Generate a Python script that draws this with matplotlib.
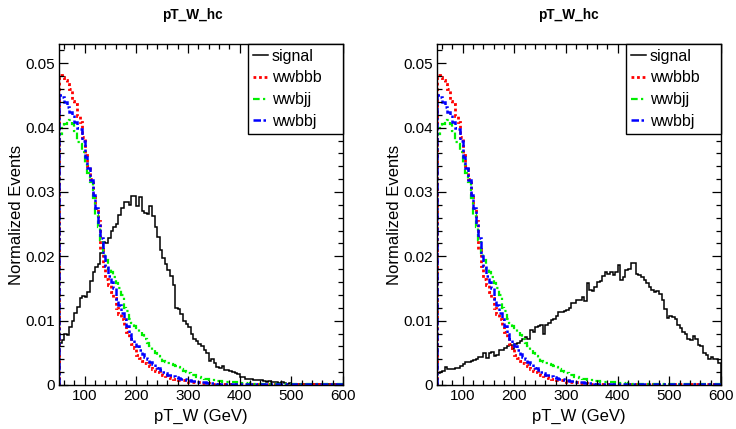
import numpy as np
import matplotlib
matplotlib.use("Agg")
import matplotlib.pyplot as plt
from matplotlib.ticker import MultipleLocator, FuncFormatter

plt.rcParams['font.family'] = ['Liberation Sans', 'DejaVu Sans']

# binning: 5 GeV bins from 50 to 600
x_lo, x_hi, bin_w = 50, 600, 5

# backgrounds (same in both panels)
wwbbb = [0.0482, 0.0478, 0.0474, 0.0468, 0.0460, 0.0442, 0.0436, 0.0418, 0.0408, 0.0385,
         0.0358, 0.0340, 0.0320, 0.0292, 0.0275, 0.0255, 0.0212, 0.0185, 0.0165, 0.0155,
         0.0145, 0.0135, 0.0120, 0.0110, 0.0102, 0.0092, 0.0082, 0.0074, 0.0064, 0.0058,
         0.0046, 0.0042, 0.0037, 0.0034, 0.0032, 0.0029, 0.0025, 0.0022, 0.0020, 0.0019,
         0.0016, 0.0014, 0.0013, 0.0011, 0.0010, 0.0009, 0.0008, 0.0008, 0.0007, 0.0006,
         0.0005, 0.0005, 0.0004, 0.0004, 0.0004, 0.0003, 0.0003, 0.0003, 0.0002, 0.0002,
         0.0002, 0.0002, 0.0001, 0.0002, 0.0001, 0.0001, 0.0001, 0.0001, 0.0001, 0.0001,
         0.0001, 0.0001, 0.0001, 0.0001, 0.0001, 0.0001, 0.0001, 0.0001, 0.0001, 0.0001,
         0.0001, 0.0001, 0.0001, 0.0001, 0.0001, 0.0001, 0.0001, 0.0001, 0.0001, 0.0001,
         0.0001, 0.0001, 0.0001, 0.0001, 0.0001, 0.0001, 0.0001, 0.0001, 0.0001, 0.0001,
         0.0001, 0.0001, 0.0001, 0.0001, 0.0001, 0.0001, 0.0001, 0.0001, 0.0001, 0.0001]

wwbjj = [0.0390, 0.0400, 0.0405, 0.0410, 0.0412, 0.0405, 0.0395, 0.0378, 0.0375, 0.0362,
         0.0345, 0.0330, 0.0315, 0.0290, 0.0265, 0.0245, 0.0225, 0.0205, 0.0195, 0.0180,
         0.0175, 0.0168, 0.0158, 0.0150, 0.0140, 0.0120, 0.0115, 0.0102, 0.0097, 0.0092,
         0.0088, 0.0082, 0.0078, 0.0072, 0.0066, 0.0060, 0.0055, 0.0050, 0.0045, 0.0042,
         0.0038, 0.0036, 0.0034, 0.0032, 0.0031, 0.0030, 0.0028, 0.0025, 0.0022, 0.0020,
         0.0018, 0.0016, 0.0015, 0.0013, 0.0012, 0.0011, 0.0010, 0.0009, 0.0008, 0.0008,
         0.0007, 0.0006, 0.0006, 0.0005, 0.0005, 0.0005, 0.0004, 0.0004, 0.0004, 0.0003,
         0.0003, 0.0003, 0.0003, 0.0002, 0.0003, 0.0002, 0.0002, 0.0002, 0.0002, 0.0002,
         0.0002, 0.0002, 0.0001, 0.0002, 0.0001, 0.0001, 0.0002, 0.0001, 0.0001, 0.0001,
         0.0001, 0.0001, 0.0001, 0.0001, 0.0001, 0.0001, 0.0001, 0.0001, 0.0001, 0.0001,
         0.0001, 0.0001, 0.0001, 0.0001, 0.0001, 0.0001, 0.0001, 0.0001, 0.0001, 0.0001]

wwbbj = [0.0450, 0.0448, 0.0440, 0.0432, 0.0425, 0.0420, 0.0408, 0.0400, 0.0398, 0.0380,
         0.0355, 0.0338, 0.0318, 0.0295, 0.0275, 0.0250, 0.0228, 0.0200, 0.0185, 0.0170,
         0.0160, 0.0150, 0.0133, 0.0125, 0.0112, 0.0102, 0.0092, 0.0080, 0.0072, 0.0065,
         0.0060, 0.0055, 0.0048, 0.0044, 0.0040, 0.0036, 0.0033, 0.0028, 0.0026, 0.0024,
         0.0020, 0.0018, 0.0016, 0.0015, 0.0014, 0.0013, 0.0011, 0.0010, 0.0009, 0.0008,
         0.0007, 0.0006, 0.0006, 0.0005, 0.0005, 0.0004, 0.0004, 0.0003, 0.0003, 0.0003,
         0.0003, 0.0002, 0.0002, 0.0002, 0.0002, 0.0002, 0.0002, 0.0001, 0.0002, 0.0001,
         0.0001, 0.0001, 0.0001, 0.0001, 0.0001, 0.0001, 0.0001, 0.0001, 0.0001, 0.0001,
         0.0001, 0.0001, 0.0001, 0.0001, 0.0001, 0.0001, 0.0001, 0.0001, 0.0001, 0.0001,
         0.0001, 0.0001, 0.0001, 0.0001, 0.0001, 0.0001, 0.0001, 0.0001, 0.0001, 0.0001,
         0.0001, 0.0001, 0.0001, 0.0001, 0.0001, 0.0001, 0.0001, 0.0001, 0.0001, 0.0001]

# signal, left panel
signal_left = [0.0065, 0.0070, 0.0080, 0.0078, 0.0090, 0.0100, 0.0112, 0.0122, 0.0135, 0.0138,
               0.0137, 0.0145, 0.0162, 0.0175, 0.0183, 0.0188, 0.0205, 0.0222, 0.0220, 0.0228,
               0.0240, 0.0245, 0.0250, 0.0265, 0.0275, 0.0285, 0.0285, 0.0280, 0.0293, 0.0293,
               0.0278, 0.0292, 0.0270, 0.0268, 0.0266, 0.0278, 0.0262, 0.0245, 0.0230, 0.0210,
               0.0198, 0.0188, 0.0178, 0.0170, 0.0155, 0.0120, 0.0118, 0.0110, 0.0100, 0.0095,
               0.0090, 0.0080, 0.0072, 0.0068, 0.0064, 0.0060, 0.0055, 0.0050, 0.0038, 0.0040,
               0.0034, 0.0028, 0.0026, 0.0030, 0.0024, 0.0023, 0.0021, 0.0020, 0.0019, 0.0017,
               0.0013, 0.0012, 0.0010, 0.0009, 0.0010, 0.0008, 0.0008, 0.0007, 0.0007, 0.0006,
               0.0005, 0.0006, 0.0004, 0.0004, 0.0005, 0.0003, 0.0004, 0.0003, 0.0002, 0.0003,
               0.0002, 0.0002, 0.0002, 0.0001, 0.0002, 0.0001, 0.0001, 0.0002, 0.0001, 0.0001,
               0.0001, 0.0001, 0.0001, 0.0001, 0.0001, 0.0001, 0.0001, 0.0001, 0.0001, 0.0001]

# signal, right panel
signal_right = [0.0018, 0.0020, 0.0021, 0.0028, 0.0025, 0.0025, 0.0025, 0.0026, 0.0026, 0.0030,
                0.0033, 0.0036, 0.0035, 0.0038, 0.0039, 0.0041, 0.0043, 0.0044, 0.0049, 0.0042,
                0.0050, 0.0052, 0.0045, 0.0046, 0.0054, 0.0055, 0.0058, 0.0060, 0.0062, 0.0056,
                0.0063, 0.0065, 0.0068, 0.0072, 0.0075, 0.0072, 0.0085, 0.0083, 0.0090, 0.0091,
                0.0093, 0.0080, 0.0094, 0.0096, 0.0101, 0.0103, 0.0108, 0.0113, 0.0114, 0.0115,
                0.0116, 0.0120, 0.0128, 0.0128, 0.0132, 0.0132, 0.0137, 0.0130, 0.0158, 0.0148,
                0.0146, 0.0152, 0.0160, 0.0161, 0.0170, 0.0176, 0.0173, 0.0175, 0.0171, 0.0175,
                0.0186, 0.0163, 0.0168, 0.0178, 0.0181, 0.0189, 0.0189, 0.0173, 0.0171, 0.0168,
                0.0163, 0.0158, 0.0153, 0.0148, 0.0145, 0.0146, 0.0142, 0.0132, 0.0118, 0.0104,
                0.0107, 0.0106, 0.0102, 0.0093, 0.0088, 0.0083, 0.0080, 0.0072, 0.0070, 0.0076,
                0.0072, 0.0062, 0.0060, 0.0050, 0.0047, 0.0041, 0.0044, 0.0041, 0.0040, 0.0034]

edges = np.arange(x_lo, x_hi + bin_w, bin_w)

fig = plt.figure(figsize=(7.36, 4.29), dpi=100)
W, H = 736, 429
panels = [(59, signal_left), (437, signal_right)]

for left, sig in panels:
    ax = fig.add_axes([left / W, (H - 385) / H, 284 / W, 341 / H])
    ax.stairs(sig, edges, color='black', lw=1.1, label='signal')
    ax.stairs(wwbbb, edges, color='#ff0000', lw=2.0, ls=(0, (1, 1)), label='wwbbb')
    ax.stairs(wwbjj, edges, color='#00ee00', lw=1.6, ls=(0, (3, 1.5, 1, 1.5)), label='wwbjj')
    ax.stairs(wwbbj, edges, color='#0000ff', lw=1.8, ls=(0, (3, 1, 1, 1)), label='wwbbj')

    ax.set_xlim(x_lo, x_hi)
    ax.set_ylim(0, 0.053)
    ax.xaxis.set_major_locator(MultipleLocator(100))
    ax.xaxis.set_minor_locator(MultipleLocator(20))
    ax.yaxis.set_major_locator(MultipleLocator(0.01))
    ax.yaxis.set_minor_locator(MultipleLocator(0.002))
    ax.yaxis.set_major_formatter(FuncFormatter(lambda v, p: '0' if abs(v) < 1e-9 else '%g' % round(v, 3)))
    ax.tick_params(which='both', direction='in', top=True, right=True, labelsize=11, width=0.9)
    ax.tick_params(which='major', length=6.5, pad=3)
    ax.tick_params(which='minor', length=3.4)
    for s in ax.spines.values():
        s.set_linewidth(1.0)

    ax.set_xlabel('pT_W (GeV)', fontsize=12, labelpad=4)
    ax.set_ylabel('Normalized Events', fontsize=12, labelpad=1)

    leg = ax.legend(loc='upper right', bbox_to_anchor=(0.665, 0.742, 0.335, 0.258), mode='expand',
                    borderaxespad=0, fontsize=11.5, frameon=True, fancybox=False,
                    edgecolor='black', framealpha=1, handlelength=0.95, handletextpad=0.25,
                    labelspacing=0.42, borderpad=0.3)
    leg.get_frame().set_linewidth(1.0)

fig.text(192 / W, 1 - 15 / H, 'pT_W_hc', ha='center', va='center', fontsize=9.8, fontweight='bold')
fig.text(568 / W, 1 - 15 / H, 'pT_W_hc', ha='center', va='center', fontsize=9.8, fontweight='bold')

fig.savefig('out.png', dpi=100)
